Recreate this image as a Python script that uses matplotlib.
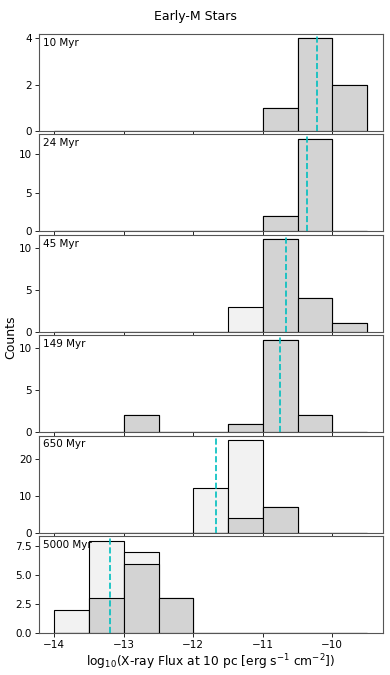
import matplotlib
matplotlib.use("Agg")
import matplotlib.pyplot as plt
import numpy as np

# bin edges for log10 X-ray flux
bin_edges = [-14.0, -13.5, -13.0, -12.5, -12.0, -11.5, -11.0, -10.5, -10.0, -9.5]

ages = ["10 Myr", "24 Myr", "45 Myr", "149 Myr", "650 Myr", "5000 Myr"]

# counts per bin: all stars (incl. upper limits) and detections
all_counts = [
    [0, 0, 0, 0, 0, 0, 1, 4, 2],
    [0, 0, 0, 0, 0, 0, 2, 12, 0],
    [0, 0, 0, 0, 0, 3, 11, 4, 1],
    [0, 0, 2, 0, 0, 1, 11, 2, 0],
    [0, 0, 0, 0, 12, 25, 7, 0, 0],
    [2, 8, 7, 3, 0, 0, 0, 0, 0],
]
det_counts = [
    [0, 0, 0, 0, 0, 0, 1, 4, 2],
    [0, 0, 0, 0, 0, 0, 2, 12, 0],
    [0, 0, 0, 0, 0, 0, 11, 4, 1],
    [0, 0, 2, 0, 0, 1, 11, 2, 0],
    [0, 0, 0, 0, 0, 4, 7, 0, 0],
    [0, 3, 6, 3, 0, 0, 0, 0, 0],
]
medians = [-10.22, -10.37, -10.67, -10.75, -11.68, -13.2]


def main():
    fig, axes = plt.subplots(6, 1, figsize=(3.9, 6.75), dpi=100, sharex=True)
    fig.subplots_adjust(left=0.1, right=0.982, top=0.950, bottom=0.062, hspace=0.035)

    centers = np.array(bin_edges[:-1]) + 0.25
    for ax, age, a, d, med in zip(axes, ages, all_counts, det_counts, medians):
        ax.hist(centers, bins=bin_edges, weights=a, color="#f2f2f2", edgecolor="black", linewidth=0.8)
        ax.hist(centers, bins=bin_edges, weights=d, color="lightgray", edgecolor="black", linewidth=0.8)
        ax.axvline(med, color="c", ls="--", lw=1.2)
        ax.text(0.012, 0.96, age, transform=ax.transAxes, ha="left", va="top", fontsize=7.5)
        ax.tick_params(labelsize=7.5, length=3, width=0.6, pad=2)
        for s in ax.spines.values():
            s.set_color("#555555")
            s.set_linewidth(0.8)

    axes[-1].set_xlim(-14.22, -9.27)
    axes[-1].set_xticks([-14, -13, -12, -11, -10])
    axes[-1].set_xlabel(r"log$_{10}$(X-ray Flux at 10 pc [erg s$^{-1}$ cm$^{-2}$])", fontsize=8.8, labelpad=2)
    fig.suptitle("Early-M Stars", fontsize=9, y=0.985)
    fig.text(0.028, 0.5, "Counts", rotation=90, va="center", ha="center", fontsize=9)

    fig.savefig("out.png", dpi=100)


main()
